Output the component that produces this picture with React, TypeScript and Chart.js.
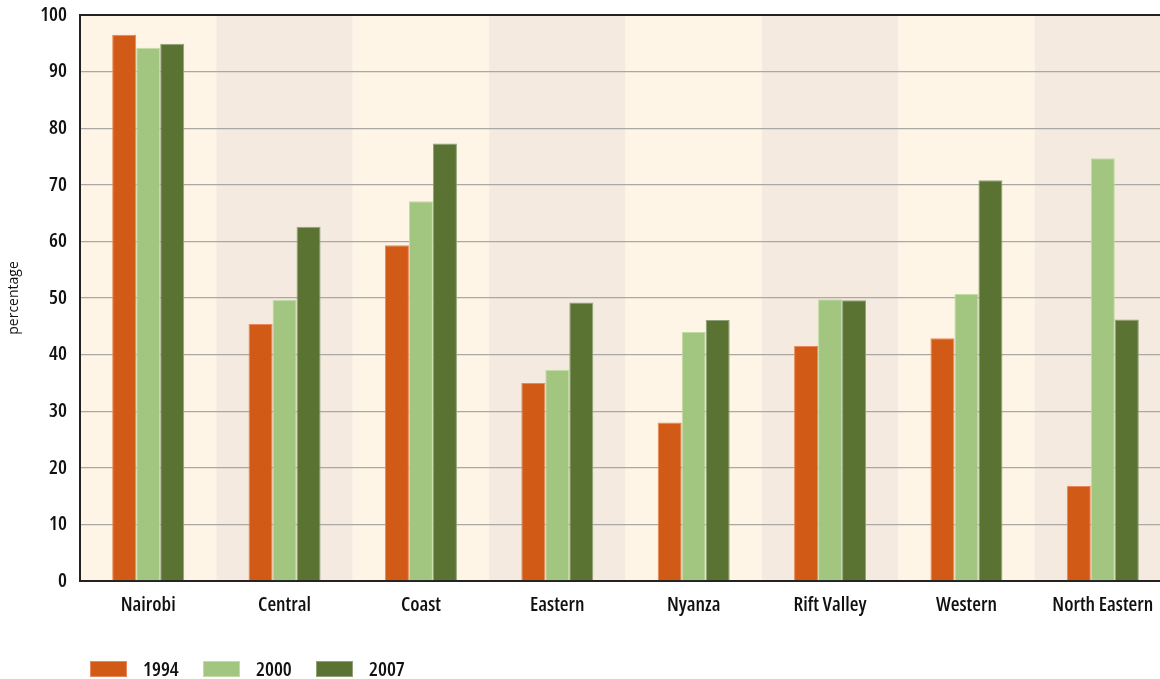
import React, { useEffect, useRef } from "react";
import { Chart, registerables } from "chart.js";

Chart.register(...registerables);

const categories = ["Nairobi", "Central", "Coast", "Eastern", "Nyanza", "Rift Valley", "Western", "North Eastern"];
const seriesLabels = ["1994", "2000", "2007"];
const values1994 = [96.5, 45.4, 59.3, 35.0, 28.0, 41.5, 42.9, 16.8];
const values2000 = [94.2, 49.7, 67.1, 37.3, 44.0, 49.8, 50.7, 74.7];
const values2007 = [94.9, 62.6, 77.3, 49.2, 46.1, 49.6, 70.8, 46.2];
const yTicks = [0, 10, 20, 30, 40, 50, 60, 70, 80, 90, 100];

const FAMILY = "'Open Sans', sans-serif";
const fills = ["#D15A17", "#A2C57F", "#5B7332"];
const borders = ["#E9875A", "#C2DCA6", "#8FA27A"];
const bandColors = ["#FEF5E6", "#F4EADF"];
const tickFont = { family: FAMILY, size: 20, weight: "600 condensed" as any };

const bandsPlugin = {
  id: "bands",
  beforeDraw(chart: any) {
    const { ctx, chartArea, scales } = chart;
    const x = scales.x;
    const n = categories.length;
    const w = (chartArea.right - chartArea.left) / n;
    ctx.save();
    for (let i = 0; i < n; i++) {
      const c = x.getPixelForValue(i);
      ctx.fillStyle = bandColors[i % 2];
      ctx.fillRect(c - w / 2, chartArea.top, w, chartArea.bottom - chartArea.top);
    }
    ctx.restore();
  },
};

const legendPlugin = {
  id: "customLegend",
  afterDraw(chart: any) {
    const { ctx, chartArea } = chart;
    const y = 669;
    let x = chartArea.left + 10;
    ctx.save();
    ctx.font = `600 condensed 20px ${FAMILY}`;
    ctx.textBaseline = "middle";
    chart.data.datasets.forEach((ds: any) => {
      ctx.fillStyle = ds.backgroundColor;
      ctx.fillRect(x, y - 8, 37, 16);
      ctx.strokeStyle = ds.borderColor;
      ctx.lineWidth = 1;
      ctx.strokeRect(x + 0.5, y - 7.5, 36, 15);
      ctx.fillStyle = "#111";
      ctx.textAlign = "left";
      ctx.fillText(ds.label, x + 53, y + 1);
      x += 113;
    });
    ctx.restore();
  },
};

export default function App() {
  const ref = useRef<HTMLCanvasElement>(null);
  useEffect(() => {
    document.body.style.margin = "0";
    document.body.style.overflow = "hidden";
    const data = [values1994, values2000, values2007];
    const chart = new Chart(ref.current!, {
      type: "bar",
      data: {
        labels: categories,
        datasets: seriesLabels.map((l, i) => ({
          label: l,
          data: data[i],
          backgroundColor: fills[i],
          borderColor: borders[i],
          borderWidth: 1,
          categoryPercentage: 0.528,
          barPercentage: 1,
        })),
      },
      options: {
        animation: false,
        responsive: false,
        maintainAspectRatio: false,
        layout: { padding: { top: 15, bottom: 48, left: 0, right: 0 } },
        plugins: { legend: { display: false }, tooltip: { enabled: false } },
        scales: {
          x: {
            offset: true,
            grid: { display: false, drawTicks: false },
            border: { display: true, color: "#222", width: 2 },
            ticks: { color: "#111", font: tickFont, padding: 12, maxRotation: 0 },
            afterFit: (s: any) => {
              s.height = 50;
              s.paddingLeft = 0;
              s.paddingRight = 0;
            },
          },
          y: {
            min: 0,
            max: 100,
            afterBuildTicks: (s: any) => { s.ticks = yTicks.map((v) => ({ value: v })); },
            grid: {
              color: (c: any) => (c.tick && c.tick.value === 100 ? "#222" : "#ABA8A3"),
              lineWidth: (c: any) => (c.tick && c.tick.value === 100 ? 2 : 1.3),
              drawTicks: false,
            },
            border: { display: true, color: "#222", width: 2 },
            ticks: { color: "#111", font: tickFont, padding: 13 },
            title: {
              display: true,
              text: "percentage",
              color: "#111",
              font: { family: FAMILY, size: 14, weight: "500" },
              padding: { top: 6, bottom: 0 },
            },
            afterFit: (s: any) => {
              s.width = 80;
              s.paddingTop = 0;
              s.paddingBottom = 0;
            },
          },
        },
      },
      plugins: [bandsPlugin, legendPlugin],
    });
    return () => chart.destroy();
  }, []);
  return (
    <div style={{ width: 1160, height: 679, overflow: "hidden" }}>
      <canvas ref={ref} width={1171} height={679} style={{ display: "block" }} />
    </div>
  );
}
